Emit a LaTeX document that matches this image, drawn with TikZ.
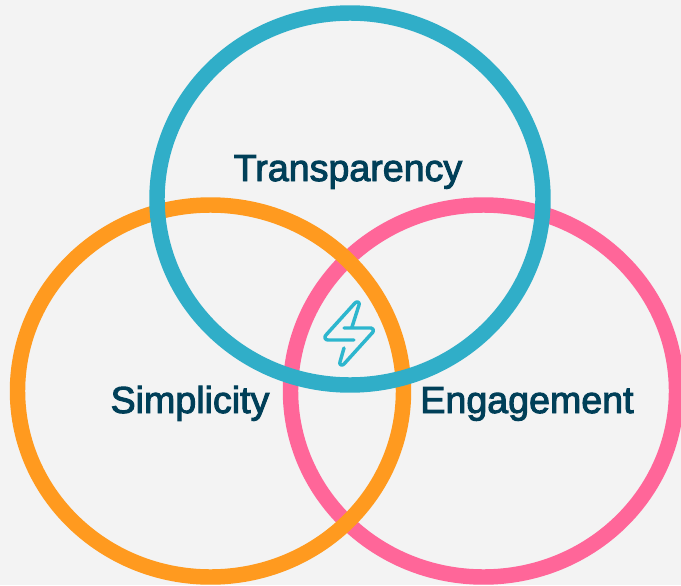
\documentclass[tikz,border=0pt]{standalone}
\usepackage{fontspec}
\setmainfont[FakeBold=2.6]{Liberation Sans}
\definecolor{bgc}{HTML}{F3F3F3}
\definecolor{blueR}{HTML}{30AEC8}
\definecolor{boltc}{HTML}{2DB6CE}
\definecolor{orangeR}{HTML}{FF9A1F}
\definecolor{pinkR}{HTML}{FF6699}
\definecolor{textc}{HTML}{003F58}
\tikzset{
  ring/.style={line width=11.6pt},
  lbl/.style={text=textc,font=\fontsize{28.2}{32}\selectfont,inner sep=0pt,anchor=base},
  bolt/.style={draw=boltc,line width=2.6pt,line cap=round,line join=round}
}
\begin{document}
\begin{tikzpicture}[x=0.75pt,y=-0.75pt]
\useasboundingbox (0,0) rectangle (681,585);
\fill[bgc] (0,0) rectangle (681,585);
\draw[ring,pinkR] (483.5,391) ellipse [x radius=193,y radius=186];
\draw[ring,orangeR] (210.5,391) ellipse [x radius=193,y radius=186];
\draw[ring,blueR] (350,199) ellipse [x radius=193,y radius=186];
\node[lbl] (t) at (348,181) {Transparency};
\node[lbl] (s) at (190,413) {Simplicity};
\node[lbl] (e) at (527,413) {Engagement};
\draw[bolt] (326,335) -- (355,303) .. controls (357,301) and (360,302) .. (359,305) -- (352,327)
  (344,328) -- (371,328) .. controls (373,328) and (374,330) .. (373,332) -- (344,364) .. controls (342,366) and (339,365) .. (340,362) -- (344,348)
  (354,340) -- (328,340) .. controls (325,340) and (324,337) .. (326,335);
\end{tikzpicture}
\end{document}
